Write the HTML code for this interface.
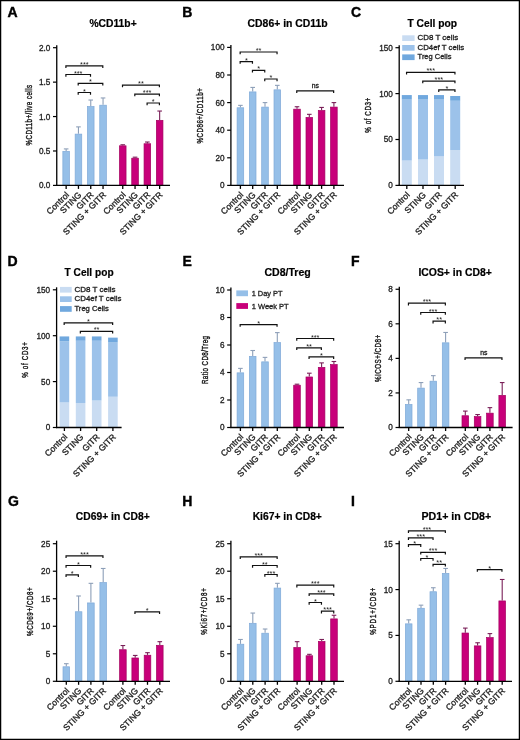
<!DOCTYPE html>
<html><head><meta charset="utf-8"><style>
html,body{margin:0;padding:0;background:#fff;}
body{width:520px;height:740px;overflow:hidden;}
svg{display:block;will-change:transform;}
text{font-family:"Liberation Sans", sans-serif;}
.t{stroke:#222;stroke-width:0.3px;}
.tk{stroke:#222;stroke-width:0.3px;}
.yl{stroke:#111;stroke-width:0.38px;}
</style></head><body>
<svg width="520" height="740" viewBox="0 0 520 740">
<rect x="0" y="0" width="520" height="740" fill="#fff"/>
<g>
<text x="7.6" y="17" font-size="14" font-weight="bold" stroke="#000" stroke-width="0.4" fill="#000">A</text>
<text x="113.05" y="26.8" font-size="10.1" font-weight="bold" stroke="#000" stroke-width="0.2" text-anchor="middle" textLength="47.3" lengthAdjust="spacingAndGlyphs" fill="#000">%CD11b+</text>
<text transform="translate(31.7,115.2) rotate(-90) scale(0.7,1)" class="yl" font-size="8.9" text-anchor="middle" textLength="86.57" lengthAdjust="spacing" fill="#1a1a1a">%CD11b+/live cells</text>
<line x1="66.15" y1="150.98" x2="66.15" y2="148.91" stroke="#8d9fb8" stroke-width="1.1"/>
<line x1="63.85" y1="148.91" x2="68.45" y2="148.91" stroke="#8d9fb8" stroke-width="1.1"/>
<rect x="62.85" y="151.33" width="6.6" height="34.07" fill="#95bfe8" stroke="#7fa9d8" stroke-width="0.7"/>
<line x1="78.45" y1="133.76" x2="78.45" y2="126.88" stroke="#8d9fb8" stroke-width="1.1"/>
<line x1="76.15" y1="126.88" x2="80.75" y2="126.88" stroke="#8d9fb8" stroke-width="1.1"/>
<rect x="75.15" y="134.11" width="6.6" height="51.29" fill="#95bfe8" stroke="#7fa9d8" stroke-width="0.7"/>
<line x1="90.75" y1="106.22" x2="90.75" y2="100.03" stroke="#8d9fb8" stroke-width="1.1"/>
<line x1="88.45" y1="100.03" x2="93.05" y2="100.03" stroke="#8d9fb8" stroke-width="1.1"/>
<rect x="87.45" y="106.57" width="6.6" height="78.83" fill="#95bfe8" stroke="#7fa9d8" stroke-width="0.7"/>
<line x1="103.05" y1="104.85" x2="103.05" y2="97.96" stroke="#8d9fb8" stroke-width="1.1"/>
<line x1="100.75" y1="97.96" x2="105.35" y2="97.96" stroke="#8d9fb8" stroke-width="1.1"/>
<rect x="99.75" y="105.2" width="6.6" height="80.2" fill="#95bfe8" stroke="#7fa9d8" stroke-width="0.7"/>
<line x1="122.75" y1="145.47" x2="122.75" y2="144.78" stroke="#7a1f58" stroke-width="1.1"/>
<line x1="120.45" y1="144.78" x2="125.05" y2="144.78" stroke="#7a1f58" stroke-width="1.1"/>
<rect x="119.45" y="145.82" width="6.6" height="39.58" fill="#c8007a" stroke="#a3005f" stroke-width="0.7"/>
<line x1="135.05" y1="157.86" x2="135.05" y2="157.17" stroke="#7a1f58" stroke-width="1.1"/>
<line x1="132.75" y1="157.17" x2="137.35" y2="157.17" stroke="#7a1f58" stroke-width="1.1"/>
<rect x="131.75" y="158.21" width="6.6" height="27.19" fill="#c8007a" stroke="#a3005f" stroke-width="0.7"/>
<line x1="147.35" y1="143.4" x2="147.35" y2="142.02" stroke="#7a1f58" stroke-width="1.1"/>
<line x1="145.05" y1="142.02" x2="149.65" y2="142.02" stroke="#7a1f58" stroke-width="1.1"/>
<rect x="144.05" y="143.75" width="6.6" height="41.65" fill="#c8007a" stroke="#a3005f" stroke-width="0.7"/>
<line x1="159.65" y1="119.99" x2="159.65" y2="111.04" stroke="#7a1f58" stroke-width="1.1"/>
<line x1="157.35" y1="111.04" x2="161.95" y2="111.04" stroke="#7a1f58" stroke-width="1.1"/>
<rect x="156.35" y="120.34" width="6.6" height="65.06" fill="#c8007a" stroke="#a3005f" stroke-width="0.7"/>
<line x1="56.75" y1="45.2" x2="56.75" y2="186" stroke="#000" stroke-width="1.3"/>
<line x1="56.15" y1="185.4" x2="170" y2="185.4" stroke="#000" stroke-width="1.3"/>
<line x1="53" y1="185.4" x2="56.75" y2="185.4" stroke="#000" stroke-width="1.2"/>
<text x="50.35" y="188.35" class="tk" font-size="8.2" text-anchor="end" fill="#1a1a1a">0.0</text>
<line x1="53" y1="150.98" x2="56.75" y2="150.98" stroke="#000" stroke-width="1.2"/>
<text x="50.35" y="153.93" class="tk" font-size="8.2" text-anchor="end" fill="#1a1a1a">0.5</text>
<line x1="53" y1="116.55" x2="56.75" y2="116.55" stroke="#000" stroke-width="1.2"/>
<text x="50.35" y="119.5" class="tk" font-size="8.2" text-anchor="end" fill="#1a1a1a">1.0</text>
<line x1="53" y1="82.13" x2="56.75" y2="82.13" stroke="#000" stroke-width="1.2"/>
<text x="50.35" y="85.08" class="tk" font-size="8.2" text-anchor="end" fill="#1a1a1a">1.5</text>
<line x1="53" y1="47.7" x2="56.75" y2="47.7" stroke="#000" stroke-width="1.2"/>
<text x="50.35" y="50.65" class="tk" font-size="8.2" text-anchor="end" fill="#1a1a1a">2.0</text>
<line x1="66.15" y1="185.4" x2="66.15" y2="188.9" stroke="#000" stroke-width="1.3"/>
<text transform="translate(69.65,195.4) rotate(-45)" class="t" font-size="8.6" text-anchor="end" fill="#1a1a1a">Control</text>
<line x1="78.45" y1="185.4" x2="78.45" y2="188.9" stroke="#000" stroke-width="1.3"/>
<text transform="translate(81.95,195.4) rotate(-45)" class="t" font-size="8.6" text-anchor="end" fill="#1a1a1a">STING</text>
<line x1="90.75" y1="185.4" x2="90.75" y2="188.9" stroke="#000" stroke-width="1.3"/>
<text transform="translate(94.25,195.4) rotate(-45)" class="t" font-size="8.6" text-anchor="end" fill="#1a1a1a">GITR</text>
<line x1="103.05" y1="185.4" x2="103.05" y2="188.9" stroke="#000" stroke-width="1.3"/>
<text transform="translate(106.55,195.4) rotate(-45)" class="t" font-size="8.6" text-anchor="end" fill="#1a1a1a">STING + GITR</text>
<line x1="122.75" y1="185.4" x2="122.75" y2="188.9" stroke="#000" stroke-width="1.3"/>
<text transform="translate(126.25,195.4) rotate(-45)" class="t" font-size="8.6" text-anchor="end" fill="#1a1a1a">Control</text>
<line x1="135.05" y1="185.4" x2="135.05" y2="188.9" stroke="#000" stroke-width="1.3"/>
<text transform="translate(138.55,195.4) rotate(-45)" class="t" font-size="8.6" text-anchor="end" fill="#1a1a1a">STING</text>
<line x1="147.35" y1="185.4" x2="147.35" y2="188.9" stroke="#000" stroke-width="1.3"/>
<text transform="translate(150.85,195.4) rotate(-45)" class="t" font-size="8.6" text-anchor="end" fill="#1a1a1a">GITR</text>
<line x1="159.65" y1="185.4" x2="159.65" y2="188.9" stroke="#000" stroke-width="1.3"/>
<text transform="translate(163.15,195.4) rotate(-45)" class="t" font-size="8.6" text-anchor="end" fill="#1a1a1a">STING + GITR</text>
<path d="M65.9,68V65.8H102.8V68" fill="none" stroke="#111" stroke-width="1.2"/>
<text x="84.35" y="66.8" font-size="7.3" text-anchor="middle" fill="#1a1a1a">***</text>
<path d="M65.9,76.7V74.5H90.5V76.7" fill="none" stroke="#111" stroke-width="1.2"/>
<text x="78.2" y="75.5" font-size="7.3" text-anchor="middle" fill="#1a1a1a">***</text>
<path d="M78.2,85.6V83.4H102.8V85.6" fill="none" stroke="#111" stroke-width="1.2"/>
<text x="90.5" y="84.4" font-size="7.3" text-anchor="middle" fill="#1a1a1a">*</text>
<path d="M78.2,94.7V92.5H90.5V94.7" fill="none" stroke="#111" stroke-width="1.2"/>
<text x="84.35" y="93.5" font-size="7.3" text-anchor="middle" fill="#1a1a1a">*</text>
<path d="M122.5,87.25V85.05H159.4V87.25" fill="none" stroke="#111" stroke-width="1.2"/>
<text x="140.95" y="86.05" font-size="7.3" text-anchor="middle" fill="#1a1a1a">**</text>
<path d="M134.8,96.25V94.05H159.4V96.25" fill="none" stroke="#111" stroke-width="1.2"/>
<text x="147.1" y="95.05" font-size="7.3" text-anchor="middle" fill="#1a1a1a">***</text>
<path d="M147.1,105.2V103H159.4V105.2" fill="none" stroke="#111" stroke-width="1.2"/>
<text x="153.25" y="104" font-size="7.3" text-anchor="middle" fill="#1a1a1a">*</text>
</g>
<g>
<text x="182.3" y="17" font-size="14" font-weight="bold" stroke="#000" stroke-width="0.4" fill="#000">B</text>
<text x="287.65" y="26.8" font-size="10.1" font-weight="bold" stroke="#000" stroke-width="0.2" text-anchor="middle" textLength="80.1" lengthAdjust="spacingAndGlyphs" fill="#000">CD86+ in CD11b</text>
<text transform="translate(202.5,115.9) rotate(-90) scale(0.7,1)" class="yl" font-size="8.9" text-anchor="middle" textLength="79.14" lengthAdjust="spacing" fill="#1a1a1a">%CD86+/CD11b+</text>
<line x1="240.4" y1="107.43" x2="240.4" y2="105.36" stroke="#8d9fb8" stroke-width="1.1"/>
<line x1="238.1" y1="105.36" x2="242.7" y2="105.36" stroke="#8d9fb8" stroke-width="1.1"/>
<rect x="237.1" y="107.78" width="6.6" height="77.62" fill="#95bfe8" stroke="#7fa9d8" stroke-width="0.7"/>
<line x1="252.7" y1="91.56" x2="252.7" y2="87.42" stroke="#8d9fb8" stroke-width="1.1"/>
<line x1="250.4" y1="87.42" x2="255" y2="87.42" stroke="#8d9fb8" stroke-width="1.1"/>
<rect x="249.4" y="91.91" width="6.6" height="93.49" fill="#95bfe8" stroke="#7fa9d8" stroke-width="0.7"/>
<line x1="265" y1="106.74" x2="265" y2="102.6" stroke="#8d9fb8" stroke-width="1.1"/>
<line x1="262.7" y1="102.6" x2="267.3" y2="102.6" stroke="#8d9fb8" stroke-width="1.1"/>
<rect x="261.7" y="107.09" width="6.6" height="78.31" fill="#95bfe8" stroke="#7fa9d8" stroke-width="0.7"/>
<line x1="277.3" y1="89.49" x2="277.3" y2="85.35" stroke="#8d9fb8" stroke-width="1.1"/>
<line x1="275" y1="85.35" x2="279.6" y2="85.35" stroke="#8d9fb8" stroke-width="1.1"/>
<rect x="274" y="89.84" width="6.6" height="95.56" fill="#95bfe8" stroke="#7fa9d8" stroke-width="0.7"/>
<line x1="297" y1="108.81" x2="297" y2="106.74" stroke="#7a1f58" stroke-width="1.1"/>
<line x1="294.7" y1="106.74" x2="299.3" y2="106.74" stroke="#7a1f58" stroke-width="1.1"/>
<rect x="293.7" y="109.16" width="6.6" height="76.24" fill="#c8007a" stroke="#a3005f" stroke-width="0.7"/>
<line x1="309.3" y1="117.09" x2="309.3" y2="114.33" stroke="#7a1f58" stroke-width="1.1"/>
<line x1="307" y1="114.33" x2="311.6" y2="114.33" stroke="#7a1f58" stroke-width="1.1"/>
<rect x="306" y="117.44" width="6.6" height="67.96" fill="#c8007a" stroke="#a3005f" stroke-width="0.7"/>
<line x1="321.6" y1="110.19" x2="321.6" y2="107.43" stroke="#7a1f58" stroke-width="1.1"/>
<line x1="319.3" y1="107.43" x2="323.9" y2="107.43" stroke="#7a1f58" stroke-width="1.1"/>
<rect x="318.3" y="110.54" width="6.6" height="74.86" fill="#c8007a" stroke="#a3005f" stroke-width="0.7"/>
<line x1="333.9" y1="106.74" x2="333.9" y2="102.6" stroke="#7a1f58" stroke-width="1.1"/>
<line x1="331.6" y1="102.6" x2="336.2" y2="102.6" stroke="#7a1f58" stroke-width="1.1"/>
<rect x="330.6" y="107.09" width="6.6" height="78.31" fill="#c8007a" stroke="#a3005f" stroke-width="0.7"/>
<line x1="230.9" y1="44.9" x2="230.9" y2="186" stroke="#000" stroke-width="1.3"/>
<line x1="230.3" y1="185.4" x2="344" y2="185.4" stroke="#000" stroke-width="1.3"/>
<line x1="227.15" y1="185.4" x2="230.9" y2="185.4" stroke="#000" stroke-width="1.2"/>
<text x="224.5" y="188.35" class="tk" font-size="8.2" text-anchor="end" fill="#1a1a1a">0</text>
<line x1="227.15" y1="157.8" x2="230.9" y2="157.8" stroke="#000" stroke-width="1.2"/>
<text x="224.5" y="160.75" class="tk" font-size="8.2" text-anchor="end" fill="#1a1a1a">20</text>
<line x1="227.15" y1="130.2" x2="230.9" y2="130.2" stroke="#000" stroke-width="1.2"/>
<text x="224.5" y="133.15" class="tk" font-size="8.2" text-anchor="end" fill="#1a1a1a">40</text>
<line x1="227.15" y1="102.6" x2="230.9" y2="102.6" stroke="#000" stroke-width="1.2"/>
<text x="224.5" y="105.55" class="tk" font-size="8.2" text-anchor="end" fill="#1a1a1a">60</text>
<line x1="227.15" y1="75" x2="230.9" y2="75" stroke="#000" stroke-width="1.2"/>
<text x="224.5" y="77.95" class="tk" font-size="8.2" text-anchor="end" fill="#1a1a1a">80</text>
<line x1="227.15" y1="47.4" x2="230.9" y2="47.4" stroke="#000" stroke-width="1.2"/>
<text x="224.5" y="50.35" class="tk" font-size="8.2" text-anchor="end" fill="#1a1a1a">100</text>
<line x1="240.4" y1="185.4" x2="240.4" y2="188.9" stroke="#000" stroke-width="1.3"/>
<text transform="translate(243.9,195.4) rotate(-45)" class="t" font-size="8.6" text-anchor="end" fill="#1a1a1a">Control</text>
<line x1="252.7" y1="185.4" x2="252.7" y2="188.9" stroke="#000" stroke-width="1.3"/>
<text transform="translate(256.2,195.4) rotate(-45)" class="t" font-size="8.6" text-anchor="end" fill="#1a1a1a">STING</text>
<line x1="265" y1="185.4" x2="265" y2="188.9" stroke="#000" stroke-width="1.3"/>
<text transform="translate(268.5,195.4) rotate(-45)" class="t" font-size="8.6" text-anchor="end" fill="#1a1a1a">GITR</text>
<line x1="277.3" y1="185.4" x2="277.3" y2="188.9" stroke="#000" stroke-width="1.3"/>
<text transform="translate(280.8,195.4) rotate(-45)" class="t" font-size="8.6" text-anchor="end" fill="#1a1a1a">STING + GITR</text>
<line x1="297" y1="185.4" x2="297" y2="188.9" stroke="#000" stroke-width="1.3"/>
<text transform="translate(300.5,195.4) rotate(-45)" class="t" font-size="8.6" text-anchor="end" fill="#1a1a1a">Control</text>
<line x1="309.3" y1="185.4" x2="309.3" y2="188.9" stroke="#000" stroke-width="1.3"/>
<text transform="translate(312.8,195.4) rotate(-45)" class="t" font-size="8.6" text-anchor="end" fill="#1a1a1a">STING</text>
<line x1="321.6" y1="185.4" x2="321.6" y2="188.9" stroke="#000" stroke-width="1.3"/>
<text transform="translate(325.1,195.4) rotate(-45)" class="t" font-size="8.6" text-anchor="end" fill="#1a1a1a">GITR</text>
<line x1="333.9" y1="185.4" x2="333.9" y2="188.9" stroke="#000" stroke-width="1.3"/>
<text transform="translate(337.4,195.4) rotate(-45)" class="t" font-size="8.6" text-anchor="end" fill="#1a1a1a">STING + GITR</text>
<path d="M240.15,54.2V52H277.05V54.2" fill="none" stroke="#111" stroke-width="1.2"/>
<text x="258.6" y="53" font-size="7.3" text-anchor="middle" fill="#1a1a1a">**</text>
<path d="M240.15,63.8V61.6H252.45V63.8" fill="none" stroke="#111" stroke-width="1.2"/>
<text x="246.3" y="62.6" font-size="7.3" text-anchor="middle" fill="#1a1a1a">*</text>
<path d="M252.45,72.5V70.3H264.75V72.5" fill="none" stroke="#111" stroke-width="1.2"/>
<text x="258.6" y="71.3" font-size="7.3" text-anchor="middle" fill="#1a1a1a">*</text>
<path d="M264.75,81.2V79H277.05V81.2" fill="none" stroke="#111" stroke-width="1.2"/>
<text x="270.9" y="80" font-size="7.3" text-anchor="middle" fill="#1a1a1a">*</text>
<path d="M296.75,93.1V90.9H333.65V93.1" fill="none" stroke="#111" stroke-width="1.2"/>
<text x="315.45" y="88.1" class="t" font-size="6.8" text-anchor="middle" fill="#1a1a1a">ns</text>
</g>
<g>
<text x="351" y="17" font-size="14" font-weight="bold" stroke="#000" stroke-width="0.4" fill="#000">C</text>
<text x="432.3" y="26.6" font-size="10.1" font-weight="bold" stroke="#000" stroke-width="0.2" text-anchor="middle" textLength="49.6" lengthAdjust="spacingAndGlyphs" fill="#000">T Cell pop</text>
<text transform="translate(371.1,115.3) rotate(-90) scale(0.7,1)" class="yl" font-size="8.9" text-anchor="middle" textLength="50.14" lengthAdjust="spacing" fill="#1a1a1a">% of CD3+</text>
<rect x="401.8" y="160.52" width="10" height="24.88" fill="#c9dcf2"/>
<rect x="401.8" y="99.57" width="10" height="60.96" fill="#9cc2ea"/>
<rect x="401.8" y="95.07" width="10" height="4.5" fill="#70a8de"/>
<rect x="418" y="159.51" width="10" height="25.89" fill="#c9dcf2"/>
<rect x="418" y="99.57" width="10" height="59.95" fill="#9cc2ea"/>
<rect x="418" y="95.07" width="10" height="4.5" fill="#70a8de"/>
<rect x="434" y="156.39" width="10" height="29.01" fill="#c9dcf2"/>
<rect x="434" y="99.57" width="10" height="56.82" fill="#9cc2ea"/>
<rect x="434" y="95.07" width="10" height="4.5" fill="#70a8de"/>
<rect x="450.2" y="150.06" width="10" height="35.34" fill="#c9dcf2"/>
<rect x="450.2" y="100.76" width="10" height="49.3" fill="#9cc2ea"/>
<rect x="450.2" y="95.99" width="10" height="4.77" fill="#70a8de"/>
<line x1="399.2" y1="45.2" x2="399.2" y2="186" stroke="#000" stroke-width="1.3"/>
<line x1="398.6" y1="185.4" x2="464" y2="185.4" stroke="#000" stroke-width="1.3"/>
<line x1="395.45" y1="185.4" x2="399.2" y2="185.4" stroke="#000" stroke-width="1.2"/>
<text x="392.8" y="188.35" class="tk" font-size="8.2" text-anchor="end" fill="#1a1a1a">0</text>
<line x1="395.45" y1="139.5" x2="399.2" y2="139.5" stroke="#000" stroke-width="1.2"/>
<text x="392.8" y="142.45" class="tk" font-size="8.2" text-anchor="end" fill="#1a1a1a">50</text>
<line x1="395.45" y1="93.6" x2="399.2" y2="93.6" stroke="#000" stroke-width="1.2"/>
<text x="392.8" y="96.55" class="tk" font-size="8.2" text-anchor="end" fill="#1a1a1a">100</text>
<line x1="395.45" y1="47.7" x2="399.2" y2="47.7" stroke="#000" stroke-width="1.2"/>
<text x="392.8" y="50.65" class="tk" font-size="8.2" text-anchor="end" fill="#1a1a1a">150</text>
<line x1="406.8" y1="185.4" x2="406.8" y2="188.9" stroke="#000" stroke-width="1.3"/>
<text transform="translate(410.3,195.4) rotate(-45)" class="t" font-size="8.6" text-anchor="end" fill="#1a1a1a">Control</text>
<line x1="423" y1="185.4" x2="423" y2="188.9" stroke="#000" stroke-width="1.3"/>
<text transform="translate(426.5,195.4) rotate(-45)" class="t" font-size="8.6" text-anchor="end" fill="#1a1a1a">STING</text>
<line x1="439" y1="185.4" x2="439" y2="188.9" stroke="#000" stroke-width="1.3"/>
<text transform="translate(442.5,195.4) rotate(-45)" class="t" font-size="8.6" text-anchor="end" fill="#1a1a1a">GITR</text>
<line x1="455.2" y1="185.4" x2="455.2" y2="188.9" stroke="#000" stroke-width="1.3"/>
<text transform="translate(458.7,195.4) rotate(-45)" class="t" font-size="8.6" text-anchor="end" fill="#1a1a1a">STING + GITR</text>
<path d="M406.55,74.6V72.4H454.95V74.6" fill="none" stroke="#111" stroke-width="1.2"/>
<text x="430.75" y="73.4" font-size="7.3" text-anchor="middle" fill="#1a1a1a">***</text>
<path d="M422.75,83.3V81.1H454.95V83.3" fill="none" stroke="#111" stroke-width="1.2"/>
<text x="438.85" y="82.1" font-size="7.3" text-anchor="middle" fill="#1a1a1a">***</text>
<path d="M438.75,92.1V89.9H454.95V92.1" fill="none" stroke="#111" stroke-width="1.2"/>
<text x="446.85" y="90.9" font-size="7.3" text-anchor="middle" fill="#1a1a1a">*</text>
<rect x="402.2" y="35.3" width="12.4" height="5.7" fill="#c9dcf2"/>
<text x="417.6" y="40.1" class="t" font-size="7.2" textLength="40.6" lengthAdjust="spacingAndGlyphs" fill="#1a1a1a">CD8 T cells</text>
<rect x="402.2" y="45" width="12.4" height="5.7" fill="#9cc2ea"/>
<text x="417.6" y="49.5" class="t" font-size="7.2" textLength="46.6" lengthAdjust="spacingAndGlyphs" fill="#1a1a1a">CD4ef T cells</text>
<rect x="402.2" y="54.4" width="12.4" height="5.7" fill="#70a8de"/>
<text x="417.6" y="58.9" class="t" font-size="7.2" textLength="33.8" lengthAdjust="spacingAndGlyphs" fill="#1a1a1a">Treg Cells</text>
</g>
<g>
<text x="7.5" y="266" font-size="14" font-weight="bold" stroke="#000" stroke-width="0.4" fill="#000">D</text>
<text x="89.1" y="275.8" font-size="10.1" font-weight="bold" stroke="#000" stroke-width="0.2" text-anchor="middle" textLength="49" lengthAdjust="spacingAndGlyphs" fill="#000">T Cell pop</text>
<text transform="translate(27.9,360) rotate(-90) scale(0.7,1)" class="yl" font-size="8.9" text-anchor="middle" textLength="51" lengthAdjust="spacing" fill="#1a1a1a">% of CD3+</text>
<rect x="59.6" y="402.44" width="9.6" height="25.06" fill="#c9dcf2"/>
<rect x="59.6" y="341.3" width="9.6" height="61.14" fill="#9cc2ea"/>
<rect x="59.6" y="336.43" width="9.6" height="4.87" fill="#70a8de"/>
<rect x="75.8" y="402.99" width="9.6" height="24.51" fill="#c9dcf2"/>
<rect x="75.8" y="340.75" width="9.6" height="62.24" fill="#9cc2ea"/>
<rect x="75.8" y="336.43" width="9.6" height="4.31" fill="#70a8de"/>
<rect x="91.9" y="400.51" width="9.6" height="26.99" fill="#c9dcf2"/>
<rect x="91.9" y="340.75" width="9.6" height="59.76" fill="#9cc2ea"/>
<rect x="91.9" y="336.43" width="9.6" height="4.31" fill="#70a8de"/>
<rect x="108.1" y="396.75" width="9.6" height="30.75" fill="#c9dcf2"/>
<rect x="108.1" y="342.49" width="9.6" height="54.25" fill="#9cc2ea"/>
<rect x="108.1" y="337.63" width="9.6" height="4.87" fill="#70a8de"/>
<line x1="56.6" y1="287.3" x2="56.6" y2="428.1" stroke="#000" stroke-width="1.3"/>
<line x1="56" y1="427.5" x2="121.6" y2="427.5" stroke="#000" stroke-width="1.3"/>
<line x1="52.85" y1="427.5" x2="56.6" y2="427.5" stroke="#000" stroke-width="1.2"/>
<text x="50.2" y="430.45" class="tk" font-size="8.2" text-anchor="end" fill="#1a1a1a">0</text>
<line x1="52.85" y1="381.6" x2="56.6" y2="381.6" stroke="#000" stroke-width="1.2"/>
<text x="50.2" y="384.55" class="tk" font-size="8.2" text-anchor="end" fill="#1a1a1a">50</text>
<line x1="52.85" y1="335.7" x2="56.6" y2="335.7" stroke="#000" stroke-width="1.2"/>
<text x="50.2" y="338.65" class="tk" font-size="8.2" text-anchor="end" fill="#1a1a1a">100</text>
<line x1="52.85" y1="289.8" x2="56.6" y2="289.8" stroke="#000" stroke-width="1.2"/>
<text x="50.2" y="292.75" class="tk" font-size="8.2" text-anchor="end" fill="#1a1a1a">150</text>
<line x1="64.4" y1="427.5" x2="64.4" y2="431" stroke="#000" stroke-width="1.3"/>
<text transform="translate(67.9,437.5) rotate(-45)" class="t" font-size="8.6" text-anchor="end" fill="#1a1a1a">Control</text>
<line x1="80.6" y1="427.5" x2="80.6" y2="431" stroke="#000" stroke-width="1.3"/>
<text transform="translate(84.1,437.5) rotate(-45)" class="t" font-size="8.6" text-anchor="end" fill="#1a1a1a">STING</text>
<line x1="96.7" y1="427.5" x2="96.7" y2="431" stroke="#000" stroke-width="1.3"/>
<text transform="translate(100.2,437.5) rotate(-45)" class="t" font-size="8.6" text-anchor="end" fill="#1a1a1a">GITR</text>
<line x1="112.9" y1="427.5" x2="112.9" y2="431" stroke="#000" stroke-width="1.3"/>
<text transform="translate(116.4,437.5) rotate(-45)" class="t" font-size="8.6" text-anchor="end" fill="#1a1a1a">STING + GITR</text>
<path d="M64.15,325V322.8H112.65V325" fill="none" stroke="#111" stroke-width="1.2"/>
<text x="88.4" y="323.8" font-size="7.3" text-anchor="middle" fill="#1a1a1a">*</text>
<path d="M80.35,333.6V331.4H112.65V333.6" fill="none" stroke="#111" stroke-width="1.2"/>
<text x="96.5" y="332.4" font-size="7.3" text-anchor="middle" fill="#1a1a1a">**</text>
<rect x="60" y="286.9" width="11.7" height="5.7" fill="#c9dcf2"/>
<text x="74.5" y="291.7" class="t" font-size="7.2" textLength="41" lengthAdjust="spacingAndGlyphs" fill="#1a1a1a">CD8 T cells</text>
<rect x="60" y="296.3" width="11.7" height="5.7" fill="#9cc2ea"/>
<text x="74.5" y="301.3" class="t" font-size="7.2" textLength="47" lengthAdjust="spacingAndGlyphs" fill="#1a1a1a">CD4ef T cells</text>
<rect x="60" y="306.1" width="11.7" height="5.7" fill="#70a8de"/>
<text x="74.5" y="310.9" class="t" font-size="7.2" textLength="34.3" lengthAdjust="spacingAndGlyphs" fill="#1a1a1a">Treg Cells</text>
</g>
<g>
<text x="182.5" y="266" font-size="14" font-weight="bold" stroke="#000" stroke-width="0.4" fill="#000">E</text>
<text x="287.6" y="275.8" font-size="10.1" font-weight="bold" stroke="#000" stroke-width="0.2" text-anchor="middle" textLength="46.4" lengthAdjust="spacingAndGlyphs" fill="#000">CD8/Treg</text>
<text transform="translate(208.4,360) rotate(-90) scale(0.7,1)" class="yl" font-size="8.9" text-anchor="middle" textLength="68.86" lengthAdjust="spacing" fill="#1a1a1a">Ratio CD8/Treg</text>
<line x1="240.4" y1="372.5" x2="240.4" y2="368.38" stroke="#8d9fb8" stroke-width="1.1"/>
<line x1="238.1" y1="368.38" x2="242.7" y2="368.38" stroke="#8d9fb8" stroke-width="1.1"/>
<rect x="237.1" y="372.85" width="6.6" height="54.65" fill="#95bfe8" stroke="#7fa9d8" stroke-width="0.7"/>
<line x1="252.7" y1="356" x2="252.7" y2="350.5" stroke="#8d9fb8" stroke-width="1.1"/>
<line x1="250.4" y1="350.5" x2="255" y2="350.5" stroke="#8d9fb8" stroke-width="1.1"/>
<rect x="249.4" y="356.35" width="6.6" height="71.15" fill="#95bfe8" stroke="#7fa9d8" stroke-width="0.7"/>
<line x1="265" y1="361.5" x2="265" y2="357.38" stroke="#8d9fb8" stroke-width="1.1"/>
<line x1="262.7" y1="357.38" x2="267.3" y2="357.38" stroke="#8d9fb8" stroke-width="1.1"/>
<rect x="261.7" y="361.85" width="6.6" height="65.65" fill="#95bfe8" stroke="#7fa9d8" stroke-width="0.7"/>
<line x1="277.3" y1="342.25" x2="277.3" y2="332.62" stroke="#8d9fb8" stroke-width="1.1"/>
<line x1="275" y1="332.62" x2="279.6" y2="332.62" stroke="#8d9fb8" stroke-width="1.1"/>
<rect x="274" y="342.6" width="6.6" height="84.9" fill="#95bfe8" stroke="#7fa9d8" stroke-width="0.7"/>
<line x1="297" y1="384.88" x2="297" y2="384.19" stroke="#7a1f58" stroke-width="1.1"/>
<line x1="294.7" y1="384.19" x2="299.3" y2="384.19" stroke="#7a1f58" stroke-width="1.1"/>
<rect x="293.7" y="385.23" width="6.6" height="42.27" fill="#c8007a" stroke="#a3005f" stroke-width="0.7"/>
<line x1="309.3" y1="376.62" x2="309.3" y2="373.19" stroke="#7a1f58" stroke-width="1.1"/>
<line x1="307" y1="373.19" x2="311.6" y2="373.19" stroke="#7a1f58" stroke-width="1.1"/>
<rect x="306" y="376.98" width="6.6" height="50.52" fill="#c8007a" stroke="#a3005f" stroke-width="0.7"/>
<line x1="321.6" y1="367" x2="321.6" y2="362.88" stroke="#7a1f58" stroke-width="1.1"/>
<line x1="319.3" y1="362.88" x2="323.9" y2="362.88" stroke="#7a1f58" stroke-width="1.1"/>
<rect x="318.3" y="367.35" width="6.6" height="60.15" fill="#c8007a" stroke="#a3005f" stroke-width="0.7"/>
<line x1="333.9" y1="364.25" x2="333.9" y2="361.5" stroke="#7a1f58" stroke-width="1.1"/>
<line x1="331.6" y1="361.5" x2="336.2" y2="361.5" stroke="#7a1f58" stroke-width="1.1"/>
<rect x="330.6" y="364.6" width="6.6" height="62.9" fill="#c8007a" stroke="#a3005f" stroke-width="0.7"/>
<line x1="230.9" y1="287.5" x2="230.9" y2="428.1" stroke="#000" stroke-width="1.3"/>
<line x1="230.3" y1="427.5" x2="344" y2="427.5" stroke="#000" stroke-width="1.3"/>
<line x1="227.15" y1="427.5" x2="230.9" y2="427.5" stroke="#000" stroke-width="1.2"/>
<text x="224.5" y="430.45" class="tk" font-size="8.2" text-anchor="end" fill="#1a1a1a">0</text>
<line x1="227.15" y1="400" x2="230.9" y2="400" stroke="#000" stroke-width="1.2"/>
<text x="224.5" y="402.95" class="tk" font-size="8.2" text-anchor="end" fill="#1a1a1a">2</text>
<line x1="227.15" y1="372.5" x2="230.9" y2="372.5" stroke="#000" stroke-width="1.2"/>
<text x="224.5" y="375.45" class="tk" font-size="8.2" text-anchor="end" fill="#1a1a1a">4</text>
<line x1="227.15" y1="345" x2="230.9" y2="345" stroke="#000" stroke-width="1.2"/>
<text x="224.5" y="347.95" class="tk" font-size="8.2" text-anchor="end" fill="#1a1a1a">6</text>
<line x1="227.15" y1="317.5" x2="230.9" y2="317.5" stroke="#000" stroke-width="1.2"/>
<text x="224.5" y="320.45" class="tk" font-size="8.2" text-anchor="end" fill="#1a1a1a">8</text>
<line x1="227.15" y1="290" x2="230.9" y2="290" stroke="#000" stroke-width="1.2"/>
<text x="224.5" y="292.95" class="tk" font-size="8.2" text-anchor="end" fill="#1a1a1a">10</text>
<line x1="240.4" y1="427.5" x2="240.4" y2="431" stroke="#000" stroke-width="1.3"/>
<text transform="translate(243.9,437.5) rotate(-45)" class="t" font-size="8.6" text-anchor="end" fill="#1a1a1a">Control</text>
<line x1="252.7" y1="427.5" x2="252.7" y2="431" stroke="#000" stroke-width="1.3"/>
<text transform="translate(256.2,437.5) rotate(-45)" class="t" font-size="8.6" text-anchor="end" fill="#1a1a1a">STING</text>
<line x1="265" y1="427.5" x2="265" y2="431" stroke="#000" stroke-width="1.3"/>
<text transform="translate(268.5,437.5) rotate(-45)" class="t" font-size="8.6" text-anchor="end" fill="#1a1a1a">GITR</text>
<line x1="277.3" y1="427.5" x2="277.3" y2="431" stroke="#000" stroke-width="1.3"/>
<text transform="translate(280.8,437.5) rotate(-45)" class="t" font-size="8.6" text-anchor="end" fill="#1a1a1a">STING + GITR</text>
<line x1="297" y1="427.5" x2="297" y2="431" stroke="#000" stroke-width="1.3"/>
<text transform="translate(300.5,437.5) rotate(-45)" class="t" font-size="8.6" text-anchor="end" fill="#1a1a1a">Control</text>
<line x1="309.3" y1="427.5" x2="309.3" y2="431" stroke="#000" stroke-width="1.3"/>
<text transform="translate(312.8,437.5) rotate(-45)" class="t" font-size="8.6" text-anchor="end" fill="#1a1a1a">STING</text>
<line x1="321.6" y1="427.5" x2="321.6" y2="431" stroke="#000" stroke-width="1.3"/>
<text transform="translate(325.1,437.5) rotate(-45)" class="t" font-size="8.6" text-anchor="end" fill="#1a1a1a">GITR</text>
<line x1="333.9" y1="427.5" x2="333.9" y2="431" stroke="#000" stroke-width="1.3"/>
<text transform="translate(337.4,437.5) rotate(-45)" class="t" font-size="8.6" text-anchor="end" fill="#1a1a1a">STING + GITR</text>
<path d="M240.15,326.8V324.6H277.05V326.8" fill="none" stroke="#111" stroke-width="1.2"/>
<text x="258.6" y="325.6" font-size="7.3" text-anchor="middle" fill="#1a1a1a">*</text>
<path d="M296.75,340.7V338.5H333.65V340.7" fill="none" stroke="#111" stroke-width="1.2"/>
<text x="315.2" y="339.5" font-size="7.3" text-anchor="middle" fill="#1a1a1a">***</text>
<path d="M296.75,350V347.8H321.35V350" fill="none" stroke="#111" stroke-width="1.2"/>
<text x="309.05" y="348.8" font-size="7.3" text-anchor="middle" fill="#1a1a1a">**</text>
<path d="M309.05,359V356.8H333.65V359" fill="none" stroke="#111" stroke-width="1.2"/>
<text x="321.35" y="357.8" font-size="7.3" text-anchor="middle" fill="#1a1a1a">*</text>
<rect x="236.3" y="290.4" width="11.7" height="5.8" fill="#95bfe8"/>
<text x="251.7" y="295.8" class="t" font-size="7.4" textLength="30.8" lengthAdjust="spacingAndGlyphs" fill="#1a1a1a">1 Day PT</text>
<rect x="236.3" y="303.1" width="11.7" height="5.8" fill="#c8007a"/>
<text x="251.7" y="308.5" class="t" font-size="7.4" textLength="37" lengthAdjust="spacingAndGlyphs" fill="#1a1a1a">1 Week PT</text>
</g>
<g>
<text x="351" y="266" font-size="14" font-weight="bold" stroke="#000" stroke-width="0.4" fill="#000">F</text>
<text x="455.15" y="275.6" font-size="10.1" font-weight="bold" stroke="#000" stroke-width="0.2" text-anchor="middle" textLength="73.5" lengthAdjust="spacingAndGlyphs" fill="#000">ICOS+ in CD8+</text>
<text transform="translate(381,358.4) rotate(-90) scale(0.7,1)" class="yl" font-size="8.9" text-anchor="middle" textLength="67.43" lengthAdjust="spacing" fill="#1a1a1a">%ICOS+/CD8+</text>
<line x1="408.7" y1="404.17" x2="408.7" y2="399.85" stroke="#8d9fb8" stroke-width="1.1"/>
<line x1="406.4" y1="399.85" x2="411" y2="399.85" stroke="#8d9fb8" stroke-width="1.1"/>
<rect x="405.4" y="404.52" width="6.6" height="22.98" fill="#95bfe8" stroke="#7fa9d8" stroke-width="0.7"/>
<line x1="421" y1="387.76" x2="421" y2="382.57" stroke="#8d9fb8" stroke-width="1.1"/>
<line x1="418.7" y1="382.57" x2="423.3" y2="382.57" stroke="#8d9fb8" stroke-width="1.1"/>
<rect x="417.7" y="388.11" width="6.6" height="39.39" fill="#95bfe8" stroke="#7fa9d8" stroke-width="0.7"/>
<line x1="433.3" y1="380.84" x2="433.3" y2="375.66" stroke="#8d9fb8" stroke-width="1.1"/>
<line x1="431" y1="375.66" x2="435.6" y2="375.66" stroke="#8d9fb8" stroke-width="1.1"/>
<rect x="430" y="381.19" width="6.6" height="46.31" fill="#95bfe8" stroke="#7fa9d8" stroke-width="0.7"/>
<line x1="445.6" y1="342.48" x2="445.6" y2="332.46" stroke="#8d9fb8" stroke-width="1.1"/>
<line x1="443.3" y1="332.46" x2="447.9" y2="332.46" stroke="#8d9fb8" stroke-width="1.1"/>
<rect x="442.3" y="342.83" width="6.6" height="84.67" fill="#95bfe8" stroke="#7fa9d8" stroke-width="0.7"/>
<line x1="465.3" y1="415.4" x2="465.3" y2="411.08" stroke="#7a1f58" stroke-width="1.1"/>
<line x1="463" y1="411.08" x2="467.6" y2="411.08" stroke="#7a1f58" stroke-width="1.1"/>
<rect x="462" y="415.75" width="6.6" height="11.75" fill="#c8007a" stroke="#a3005f" stroke-width="0.7"/>
<line x1="477.6" y1="416.27" x2="477.6" y2="414.54" stroke="#7a1f58" stroke-width="1.1"/>
<line x1="475.3" y1="414.54" x2="479.9" y2="414.54" stroke="#7a1f58" stroke-width="1.1"/>
<rect x="474.3" y="416.62" width="6.6" height="10.88" fill="#c8007a" stroke="#a3005f" stroke-width="0.7"/>
<line x1="489.9" y1="412.81" x2="489.9" y2="407.63" stroke="#7a1f58" stroke-width="1.1"/>
<line x1="487.6" y1="407.63" x2="492.2" y2="407.63" stroke="#7a1f58" stroke-width="1.1"/>
<rect x="486.6" y="413.16" width="6.6" height="14.34" fill="#c8007a" stroke="#a3005f" stroke-width="0.7"/>
<line x1="502.2" y1="395.01" x2="502.2" y2="382.57" stroke="#7a1f58" stroke-width="1.1"/>
<line x1="499.9" y1="382.57" x2="504.5" y2="382.57" stroke="#7a1f58" stroke-width="1.1"/>
<rect x="498.9" y="395.36" width="6.6" height="32.14" fill="#c8007a" stroke="#a3005f" stroke-width="0.7"/>
<line x1="399.3" y1="286.76" x2="399.3" y2="428.1" stroke="#000" stroke-width="1.3"/>
<line x1="398.7" y1="427.5" x2="512.6" y2="427.5" stroke="#000" stroke-width="1.3"/>
<line x1="395.55" y1="427.5" x2="399.3" y2="427.5" stroke="#000" stroke-width="1.2"/>
<text x="392.9" y="430.45" class="tk" font-size="8.2" text-anchor="end" fill="#1a1a1a">0</text>
<line x1="395.55" y1="392.94" x2="399.3" y2="392.94" stroke="#000" stroke-width="1.2"/>
<text x="392.9" y="395.89" class="tk" font-size="8.2" text-anchor="end" fill="#1a1a1a">2</text>
<line x1="395.55" y1="358.38" x2="399.3" y2="358.38" stroke="#000" stroke-width="1.2"/>
<text x="392.9" y="361.33" class="tk" font-size="8.2" text-anchor="end" fill="#1a1a1a">4</text>
<line x1="395.55" y1="323.82" x2="399.3" y2="323.82" stroke="#000" stroke-width="1.2"/>
<text x="392.9" y="326.77" class="tk" font-size="8.2" text-anchor="end" fill="#1a1a1a">6</text>
<line x1="395.55" y1="289.26" x2="399.3" y2="289.26" stroke="#000" stroke-width="1.2"/>
<text x="392.9" y="292.21" class="tk" font-size="8.2" text-anchor="end" fill="#1a1a1a">8</text>
<line x1="408.7" y1="427.5" x2="408.7" y2="431" stroke="#000" stroke-width="1.3"/>
<text transform="translate(412.2,437.5) rotate(-45)" class="t" font-size="8.6" text-anchor="end" fill="#1a1a1a">Control</text>
<line x1="421" y1="427.5" x2="421" y2="431" stroke="#000" stroke-width="1.3"/>
<text transform="translate(424.5,437.5) rotate(-45)" class="t" font-size="8.6" text-anchor="end" fill="#1a1a1a">STING</text>
<line x1="433.3" y1="427.5" x2="433.3" y2="431" stroke="#000" stroke-width="1.3"/>
<text transform="translate(436.8,437.5) rotate(-45)" class="t" font-size="8.6" text-anchor="end" fill="#1a1a1a">GITR</text>
<line x1="445.6" y1="427.5" x2="445.6" y2="431" stroke="#000" stroke-width="1.3"/>
<text transform="translate(449.1,437.5) rotate(-45)" class="t" font-size="8.6" text-anchor="end" fill="#1a1a1a">STING + GITR</text>
<line x1="465.3" y1="427.5" x2="465.3" y2="431" stroke="#000" stroke-width="1.3"/>
<text transform="translate(468.8,437.5) rotate(-45)" class="t" font-size="8.6" text-anchor="end" fill="#1a1a1a">Control</text>
<line x1="477.6" y1="427.5" x2="477.6" y2="431" stroke="#000" stroke-width="1.3"/>
<text transform="translate(481.1,437.5) rotate(-45)" class="t" font-size="8.6" text-anchor="end" fill="#1a1a1a">STING</text>
<line x1="489.9" y1="427.5" x2="489.9" y2="431" stroke="#000" stroke-width="1.3"/>
<text transform="translate(493.4,437.5) rotate(-45)" class="t" font-size="8.6" text-anchor="end" fill="#1a1a1a">GITR</text>
<line x1="502.2" y1="427.5" x2="502.2" y2="431" stroke="#000" stroke-width="1.3"/>
<text transform="translate(505.7,437.5) rotate(-45)" class="t" font-size="8.6" text-anchor="end" fill="#1a1a1a">STING + GITR</text>
<path d="M408.45,305.4V303.2H445.35V305.4" fill="none" stroke="#111" stroke-width="1.2"/>
<text x="426.9" y="304.2" font-size="7.3" text-anchor="middle" fill="#1a1a1a">***</text>
<path d="M420.75,314.7V312.5H445.35V314.7" fill="none" stroke="#111" stroke-width="1.2"/>
<text x="433.05" y="313.5" font-size="7.3" text-anchor="middle" fill="#1a1a1a">***</text>
<path d="M433.05,323.4V321.2H445.35V323.4" fill="none" stroke="#111" stroke-width="1.2"/>
<text x="439.2" y="322.2" font-size="7.3" text-anchor="middle" fill="#1a1a1a">**</text>
<path d="M465.05,360V357.8H501.95V360" fill="none" stroke="#111" stroke-width="1.2"/>
<text x="483.75" y="355" class="t" font-size="6.8" text-anchor="middle" fill="#1a1a1a">ns</text>
</g>
<g>
<text x="8" y="506" font-size="14" font-weight="bold" stroke="#000" stroke-width="0.4" fill="#000">G</text>
<text x="112.75" y="519.6" font-size="10.1" font-weight="bold" stroke="#000" stroke-width="0.2" text-anchor="middle" textLength="73.9" lengthAdjust="spacingAndGlyphs" fill="#000">CD69+ in CD8+</text>
<text transform="translate(33.1,611.6) rotate(-90) scale(0.7,1)" class="yl" font-size="8.9" text-anchor="middle" textLength="69.57" lengthAdjust="spacing" fill="#1a1a1a">%CD69+/CD8+</text>
<line x1="66.3" y1="666.44" x2="66.3" y2="663.69" stroke="#8d9fb8" stroke-width="1.1"/>
<line x1="64" y1="663.69" x2="68.6" y2="663.69" stroke="#8d9fb8" stroke-width="1.1"/>
<rect x="63" y="666.79" width="6.6" height="14.51" fill="#95bfe8" stroke="#7fa9d8" stroke-width="0.7"/>
<line x1="78.6" y1="611.4" x2="78.6" y2="595.99" stroke="#8d9fb8" stroke-width="1.1"/>
<line x1="76.3" y1="595.99" x2="80.9" y2="595.99" stroke="#8d9fb8" stroke-width="1.1"/>
<rect x="75.3" y="611.75" width="6.6" height="69.55" fill="#95bfe8" stroke="#7fa9d8" stroke-width="0.7"/>
<line x1="90.9" y1="602.59" x2="90.9" y2="583.33" stroke="#8d9fb8" stroke-width="1.1"/>
<line x1="88.6" y1="583.33" x2="93.2" y2="583.33" stroke="#8d9fb8" stroke-width="1.1"/>
<rect x="87.6" y="602.94" width="6.6" height="78.36" fill="#95bfe8" stroke="#7fa9d8" stroke-width="0.7"/>
<line x1="103.2" y1="582.23" x2="103.2" y2="568.47" stroke="#8d9fb8" stroke-width="1.1"/>
<line x1="100.9" y1="568.47" x2="105.5" y2="568.47" stroke="#8d9fb8" stroke-width="1.1"/>
<rect x="99.9" y="582.58" width="6.6" height="98.72" fill="#95bfe8" stroke="#7fa9d8" stroke-width="0.7"/>
<line x1="122.9" y1="649.38" x2="122.9" y2="645.52" stroke="#7a1f58" stroke-width="1.1"/>
<line x1="120.6" y1="645.52" x2="125.2" y2="645.52" stroke="#7a1f58" stroke-width="1.1"/>
<rect x="119.6" y="649.73" width="6.6" height="31.57" fill="#c8007a" stroke="#a3005f" stroke-width="0.7"/>
<line x1="135.2" y1="657.63" x2="135.2" y2="655.43" stroke="#7a1f58" stroke-width="1.1"/>
<line x1="132.9" y1="655.43" x2="137.5" y2="655.43" stroke="#7a1f58" stroke-width="1.1"/>
<rect x="131.9" y="657.98" width="6.6" height="23.32" fill="#c8007a" stroke="#a3005f" stroke-width="0.7"/>
<line x1="147.5" y1="654.88" x2="147.5" y2="652.68" stroke="#7a1f58" stroke-width="1.1"/>
<line x1="145.2" y1="652.68" x2="149.8" y2="652.68" stroke="#7a1f58" stroke-width="1.1"/>
<rect x="144.2" y="655.23" width="6.6" height="26.07" fill="#c8007a" stroke="#a3005f" stroke-width="0.7"/>
<line x1="159.8" y1="644.97" x2="159.8" y2="641.67" stroke="#7a1f58" stroke-width="1.1"/>
<line x1="157.5" y1="641.67" x2="162.1" y2="641.67" stroke="#7a1f58" stroke-width="1.1"/>
<rect x="156.5" y="645.32" width="6.6" height="35.98" fill="#c8007a" stroke="#a3005f" stroke-width="0.7"/>
<line x1="56.6" y1="540.7" x2="56.6" y2="681.9" stroke="#000" stroke-width="1.3"/>
<line x1="56" y1="681.3" x2="170" y2="681.3" stroke="#000" stroke-width="1.3"/>
<line x1="52.85" y1="681.3" x2="56.6" y2="681.3" stroke="#000" stroke-width="1.2"/>
<text x="50.2" y="684.25" class="tk" font-size="8.2" text-anchor="end" fill="#1a1a1a">0</text>
<line x1="52.85" y1="653.78" x2="56.6" y2="653.78" stroke="#000" stroke-width="1.2"/>
<text x="50.2" y="656.73" class="tk" font-size="8.2" text-anchor="end" fill="#1a1a1a">5</text>
<line x1="52.85" y1="626.26" x2="56.6" y2="626.26" stroke="#000" stroke-width="1.2"/>
<text x="50.2" y="629.21" class="tk" font-size="8.2" text-anchor="end" fill="#1a1a1a">10</text>
<line x1="52.85" y1="598.74" x2="56.6" y2="598.74" stroke="#000" stroke-width="1.2"/>
<text x="50.2" y="601.69" class="tk" font-size="8.2" text-anchor="end" fill="#1a1a1a">15</text>
<line x1="52.85" y1="571.22" x2="56.6" y2="571.22" stroke="#000" stroke-width="1.2"/>
<text x="50.2" y="574.17" class="tk" font-size="8.2" text-anchor="end" fill="#1a1a1a">20</text>
<line x1="52.85" y1="543.7" x2="56.6" y2="543.7" stroke="#000" stroke-width="1.2"/>
<text x="50.2" y="546.65" class="tk" font-size="8.2" text-anchor="end" fill="#1a1a1a">25</text>
<line x1="66.3" y1="681.3" x2="66.3" y2="684.8" stroke="#000" stroke-width="1.3"/>
<text transform="translate(69.8,691.3) rotate(-45)" class="t" font-size="8.6" text-anchor="end" fill="#1a1a1a">Control</text>
<line x1="78.6" y1="681.3" x2="78.6" y2="684.8" stroke="#000" stroke-width="1.3"/>
<text transform="translate(82.1,691.3) rotate(-45)" class="t" font-size="8.6" text-anchor="end" fill="#1a1a1a">STING</text>
<line x1="90.9" y1="681.3" x2="90.9" y2="684.8" stroke="#000" stroke-width="1.3"/>
<text transform="translate(94.4,691.3) rotate(-45)" class="t" font-size="8.6" text-anchor="end" fill="#1a1a1a">GITR</text>
<line x1="103.2" y1="681.3" x2="103.2" y2="684.8" stroke="#000" stroke-width="1.3"/>
<text transform="translate(106.7,691.3) rotate(-45)" class="t" font-size="8.6" text-anchor="end" fill="#1a1a1a">STING + GITR</text>
<line x1="122.9" y1="681.3" x2="122.9" y2="684.8" stroke="#000" stroke-width="1.3"/>
<text transform="translate(126.4,691.3) rotate(-45)" class="t" font-size="8.6" text-anchor="end" fill="#1a1a1a">Control</text>
<line x1="135.2" y1="681.3" x2="135.2" y2="684.8" stroke="#000" stroke-width="1.3"/>
<text transform="translate(138.7,691.3) rotate(-45)" class="t" font-size="8.6" text-anchor="end" fill="#1a1a1a">STING</text>
<line x1="147.5" y1="681.3" x2="147.5" y2="684.8" stroke="#000" stroke-width="1.3"/>
<text transform="translate(151,691.3) rotate(-45)" class="t" font-size="8.6" text-anchor="end" fill="#1a1a1a">GITR</text>
<line x1="159.8" y1="681.3" x2="159.8" y2="684.8" stroke="#000" stroke-width="1.3"/>
<text transform="translate(163.3,691.3) rotate(-45)" class="t" font-size="8.6" text-anchor="end" fill="#1a1a1a">STING + GITR</text>
<path d="M66.05,558V555.8H102.95V558" fill="none" stroke="#111" stroke-width="1.2"/>
<text x="84.5" y="556.8" font-size="7.3" text-anchor="middle" fill="#1a1a1a">***</text>
<path d="M66.05,567.7V565.5H90.65V567.7" fill="none" stroke="#111" stroke-width="1.2"/>
<text x="78.35" y="566.5" font-size="7.3" text-anchor="middle" fill="#1a1a1a">*</text>
<path d="M66.05,577V574.8H78.35V577" fill="none" stroke="#111" stroke-width="1.2"/>
<text x="72.2" y="575.8" font-size="7.3" text-anchor="middle" fill="#1a1a1a">*</text>
<path d="M134.95,614V611.8H159.55V614" fill="none" stroke="#111" stroke-width="1.2"/>
<text x="147.25" y="612.8" font-size="7.3" text-anchor="middle" fill="#1a1a1a">*</text>
</g>
<g>
<text x="182.3" y="506" font-size="14" font-weight="bold" stroke="#000" stroke-width="0.4" fill="#000">H</text>
<text x="287.3" y="519.6" font-size="10.1" font-weight="bold" stroke="#000" stroke-width="0.2" text-anchor="middle" textLength="69.2" lengthAdjust="spacingAndGlyphs" fill="#000">Ki67+ in CD8+</text>
<text transform="translate(207.4,611.5) rotate(-90) scale(0.7,1)" class="yl" font-size="8.9" text-anchor="middle" textLength="66.57" lengthAdjust="spacing" fill="#1a1a1a">%Ki67+/CD8+</text>
<line x1="240.5" y1="643.87" x2="240.5" y2="639.47" stroke="#8d9fb8" stroke-width="1.1"/>
<line x1="238.2" y1="639.47" x2="242.8" y2="639.47" stroke="#8d9fb8" stroke-width="1.1"/>
<rect x="237.2" y="644.22" width="6.6" height="37.08" fill="#95bfe8" stroke="#7fa9d8" stroke-width="0.7"/>
<line x1="252.8" y1="622.96" x2="252.8" y2="613.05" stroke="#8d9fb8" stroke-width="1.1"/>
<line x1="250.5" y1="613.05" x2="255.1" y2="613.05" stroke="#8d9fb8" stroke-width="1.1"/>
<rect x="249.5" y="623.31" width="6.6" height="57.99" fill="#95bfe8" stroke="#7fa9d8" stroke-width="0.7"/>
<line x1="265.1" y1="632.86" x2="265.1" y2="629.01" stroke="#8d9fb8" stroke-width="1.1"/>
<line x1="262.8" y1="629.01" x2="267.4" y2="629.01" stroke="#8d9fb8" stroke-width="1.1"/>
<rect x="261.8" y="633.21" width="6.6" height="48.09" fill="#95bfe8" stroke="#7fa9d8" stroke-width="0.7"/>
<line x1="277.4" y1="587.73" x2="277.4" y2="583.33" stroke="#8d9fb8" stroke-width="1.1"/>
<line x1="275.1" y1="583.33" x2="279.7" y2="583.33" stroke="#8d9fb8" stroke-width="1.1"/>
<rect x="274.1" y="588.08" width="6.6" height="93.22" fill="#95bfe8" stroke="#7fa9d8" stroke-width="0.7"/>
<line x1="297.1" y1="647.18" x2="297.1" y2="641.67" stroke="#7a1f58" stroke-width="1.1"/>
<line x1="294.8" y1="641.67" x2="299.4" y2="641.67" stroke="#7a1f58" stroke-width="1.1"/>
<rect x="293.8" y="647.53" width="6.6" height="33.77" fill="#c8007a" stroke="#a3005f" stroke-width="0.7"/>
<line x1="309.4" y1="655.43" x2="309.4" y2="654.33" stroke="#7a1f58" stroke-width="1.1"/>
<line x1="307.1" y1="654.33" x2="311.7" y2="654.33" stroke="#7a1f58" stroke-width="1.1"/>
<rect x="306.1" y="655.78" width="6.6" height="25.52" fill="#c8007a" stroke="#a3005f" stroke-width="0.7"/>
<line x1="321.7" y1="641.12" x2="321.7" y2="639.47" stroke="#7a1f58" stroke-width="1.1"/>
<line x1="319.4" y1="639.47" x2="324" y2="639.47" stroke="#7a1f58" stroke-width="1.1"/>
<rect x="318.4" y="641.47" width="6.6" height="39.83" fill="#c8007a" stroke="#a3005f" stroke-width="0.7"/>
<line x1="334" y1="618.55" x2="334" y2="615.25" stroke="#7a1f58" stroke-width="1.1"/>
<line x1="331.7" y1="615.25" x2="336.3" y2="615.25" stroke="#7a1f58" stroke-width="1.1"/>
<rect x="330.7" y="618.9" width="6.6" height="62.4" fill="#c8007a" stroke="#a3005f" stroke-width="0.7"/>
<line x1="230.9" y1="540.7" x2="230.9" y2="681.9" stroke="#000" stroke-width="1.3"/>
<line x1="230.3" y1="681.3" x2="344" y2="681.3" stroke="#000" stroke-width="1.3"/>
<line x1="227.15" y1="681.3" x2="230.9" y2="681.3" stroke="#000" stroke-width="1.2"/>
<text x="224.5" y="684.25" class="tk" font-size="8.2" text-anchor="end" fill="#1a1a1a">0</text>
<line x1="227.15" y1="653.78" x2="230.9" y2="653.78" stroke="#000" stroke-width="1.2"/>
<text x="224.5" y="656.73" class="tk" font-size="8.2" text-anchor="end" fill="#1a1a1a">5</text>
<line x1="227.15" y1="626.26" x2="230.9" y2="626.26" stroke="#000" stroke-width="1.2"/>
<text x="224.5" y="629.21" class="tk" font-size="8.2" text-anchor="end" fill="#1a1a1a">10</text>
<line x1="227.15" y1="598.74" x2="230.9" y2="598.74" stroke="#000" stroke-width="1.2"/>
<text x="224.5" y="601.69" class="tk" font-size="8.2" text-anchor="end" fill="#1a1a1a">15</text>
<line x1="227.15" y1="571.22" x2="230.9" y2="571.22" stroke="#000" stroke-width="1.2"/>
<text x="224.5" y="574.17" class="tk" font-size="8.2" text-anchor="end" fill="#1a1a1a">20</text>
<line x1="227.15" y1="543.7" x2="230.9" y2="543.7" stroke="#000" stroke-width="1.2"/>
<text x="224.5" y="546.65" class="tk" font-size="8.2" text-anchor="end" fill="#1a1a1a">25</text>
<line x1="240.5" y1="681.3" x2="240.5" y2="684.8" stroke="#000" stroke-width="1.3"/>
<text transform="translate(244,691.3) rotate(-45)" class="t" font-size="8.6" text-anchor="end" fill="#1a1a1a">Control</text>
<line x1="252.8" y1="681.3" x2="252.8" y2="684.8" stroke="#000" stroke-width="1.3"/>
<text transform="translate(256.3,691.3) rotate(-45)" class="t" font-size="8.6" text-anchor="end" fill="#1a1a1a">STING</text>
<line x1="265.1" y1="681.3" x2="265.1" y2="684.8" stroke="#000" stroke-width="1.3"/>
<text transform="translate(268.6,691.3) rotate(-45)" class="t" font-size="8.6" text-anchor="end" fill="#1a1a1a">GITR</text>
<line x1="277.4" y1="681.3" x2="277.4" y2="684.8" stroke="#000" stroke-width="1.3"/>
<text transform="translate(280.9,691.3) rotate(-45)" class="t" font-size="8.6" text-anchor="end" fill="#1a1a1a">STING + GITR</text>
<line x1="297.1" y1="681.3" x2="297.1" y2="684.8" stroke="#000" stroke-width="1.3"/>
<text transform="translate(300.6,691.3) rotate(-45)" class="t" font-size="8.6" text-anchor="end" fill="#1a1a1a">Control</text>
<line x1="309.4" y1="681.3" x2="309.4" y2="684.8" stroke="#000" stroke-width="1.3"/>
<text transform="translate(312.9,691.3) rotate(-45)" class="t" font-size="8.6" text-anchor="end" fill="#1a1a1a">STING</text>
<line x1="321.7" y1="681.3" x2="321.7" y2="684.8" stroke="#000" stroke-width="1.3"/>
<text transform="translate(325.2,691.3) rotate(-45)" class="t" font-size="8.6" text-anchor="end" fill="#1a1a1a">GITR</text>
<line x1="334" y1="681.3" x2="334" y2="684.8" stroke="#000" stroke-width="1.3"/>
<text transform="translate(337.5,691.3) rotate(-45)" class="t" font-size="8.6" text-anchor="end" fill="#1a1a1a">STING + GITR</text>
<path d="M240.25,559V556.8H277.15V559" fill="none" stroke="#111" stroke-width="1.2"/>
<text x="258.7" y="557.8" font-size="7.3" text-anchor="middle" fill="#1a1a1a">***</text>
<path d="M252.55,567.7V565.5H277.15V567.7" fill="none" stroke="#111" stroke-width="1.2"/>
<text x="264.85" y="566.5" font-size="7.3" text-anchor="middle" fill="#1a1a1a">**</text>
<path d="M264.85,576.7V574.5H277.15V576.7" fill="none" stroke="#111" stroke-width="1.2"/>
<text x="271" y="575.5" font-size="7.3" text-anchor="middle" fill="#1a1a1a">***</text>
<path d="M296.85,587.4V585.2H333.75V587.4" fill="none" stroke="#111" stroke-width="1.2"/>
<text x="315.3" y="586.2" font-size="7.3" text-anchor="middle" fill="#1a1a1a">***</text>
<path d="M309.15,596V593.8H333.75V596" fill="none" stroke="#111" stroke-width="1.2"/>
<text x="321.45" y="594.8" font-size="7.3" text-anchor="middle" fill="#1a1a1a">***</text>
<path d="M309.15,604.7V602.5H321.45V604.7" fill="none" stroke="#111" stroke-width="1.2"/>
<text x="315.3" y="603.5" font-size="7.3" text-anchor="middle" fill="#1a1a1a">*</text>
<path d="M321.45,613.4V611.2H333.75V613.4" fill="none" stroke="#111" stroke-width="1.2"/>
<text x="327.6" y="612.2" font-size="7.3" text-anchor="middle" fill="#1a1a1a">***</text>
</g>
<g>
<text x="351" y="506" font-size="14" font-weight="bold" stroke="#000" stroke-width="0.4" fill="#000">I</text>
<text x="456.35" y="519.6" font-size="10.1" font-weight="bold" stroke="#000" stroke-width="0.2" text-anchor="middle" textLength="69.7" lengthAdjust="spacingAndGlyphs" fill="#000">PD1+ in CD8+</text>
<text transform="translate(376.2,611.3) rotate(-90) scale(0.7,1)" class="yl" font-size="8.9" text-anchor="middle" textLength="67.29" lengthAdjust="spacing" fill="#1a1a1a">%PD1+/CD8+</text>
<line x1="408.7" y1="623.51" x2="408.7" y2="619.84" stroke="#8d9fb8" stroke-width="1.1"/>
<line x1="406.4" y1="619.84" x2="411" y2="619.84" stroke="#8d9fb8" stroke-width="1.1"/>
<rect x="405.4" y="623.86" width="6.6" height="57.44" fill="#95bfe8" stroke="#7fa9d8" stroke-width="0.7"/>
<line x1="421" y1="607.92" x2="421" y2="605.16" stroke="#8d9fb8" stroke-width="1.1"/>
<line x1="418.7" y1="605.16" x2="423.3" y2="605.16" stroke="#8d9fb8" stroke-width="1.1"/>
<rect x="417.7" y="608.27" width="6.6" height="73.03" fill="#95bfe8" stroke="#7fa9d8" stroke-width="0.7"/>
<line x1="433.3" y1="591.4" x2="433.3" y2="587.74" stroke="#8d9fb8" stroke-width="1.1"/>
<line x1="431" y1="587.74" x2="435.6" y2="587.74" stroke="#8d9fb8" stroke-width="1.1"/>
<rect x="430" y="591.75" width="6.6" height="89.55" fill="#95bfe8" stroke="#7fa9d8" stroke-width="0.7"/>
<line x1="445.6" y1="573.06" x2="445.6" y2="568.47" stroke="#8d9fb8" stroke-width="1.1"/>
<line x1="443.3" y1="568.47" x2="447.9" y2="568.47" stroke="#8d9fb8" stroke-width="1.1"/>
<rect x="442.3" y="573.41" width="6.6" height="107.89" fill="#95bfe8" stroke="#7fa9d8" stroke-width="0.7"/>
<line x1="465.3" y1="632.68" x2="465.3" y2="628.1" stroke="#7a1f58" stroke-width="1.1"/>
<line x1="463" y1="628.1" x2="467.6" y2="628.1" stroke="#7a1f58" stroke-width="1.1"/>
<rect x="462" y="633.03" width="6.6" height="48.27" fill="#c8007a" stroke="#a3005f" stroke-width="0.7"/>
<line x1="477.6" y1="645.53" x2="477.6" y2="642.77" stroke="#7a1f58" stroke-width="1.1"/>
<line x1="475.3" y1="642.77" x2="479.9" y2="642.77" stroke="#7a1f58" stroke-width="1.1"/>
<rect x="474.3" y="645.88" width="6.6" height="35.42" fill="#c8007a" stroke="#a3005f" stroke-width="0.7"/>
<line x1="489.9" y1="637.27" x2="489.9" y2="633.6" stroke="#7a1f58" stroke-width="1.1"/>
<line x1="487.6" y1="633.6" x2="492.2" y2="633.6" stroke="#7a1f58" stroke-width="1.1"/>
<rect x="486.6" y="637.62" width="6.6" height="43.68" fill="#c8007a" stroke="#a3005f" stroke-width="0.7"/>
<line x1="502.2" y1="600.58" x2="502.2" y2="579.48" stroke="#7a1f58" stroke-width="1.1"/>
<line x1="499.9" y1="579.48" x2="504.5" y2="579.48" stroke="#7a1f58" stroke-width="1.1"/>
<rect x="498.9" y="600.93" width="6.6" height="80.37" fill="#c8007a" stroke="#a3005f" stroke-width="0.7"/>
<line x1="399.2" y1="540.7" x2="399.2" y2="681.9" stroke="#000" stroke-width="1.3"/>
<line x1="398.6" y1="681.3" x2="512" y2="681.3" stroke="#000" stroke-width="1.3"/>
<line x1="395.45" y1="681.3" x2="399.2" y2="681.3" stroke="#000" stroke-width="1.2"/>
<text x="392.8" y="684.25" class="tk" font-size="8.2" text-anchor="end" fill="#1a1a1a">0</text>
<line x1="395.45" y1="635.43" x2="399.2" y2="635.43" stroke="#000" stroke-width="1.2"/>
<text x="392.8" y="638.38" class="tk" font-size="8.2" text-anchor="end" fill="#1a1a1a">5</text>
<line x1="395.45" y1="589.57" x2="399.2" y2="589.57" stroke="#000" stroke-width="1.2"/>
<text x="392.8" y="592.52" class="tk" font-size="8.2" text-anchor="end" fill="#1a1a1a">10</text>
<line x1="395.45" y1="543.7" x2="399.2" y2="543.7" stroke="#000" stroke-width="1.2"/>
<text x="392.8" y="546.65" class="tk" font-size="8.2" text-anchor="end" fill="#1a1a1a">15</text>
<line x1="408.7" y1="681.3" x2="408.7" y2="684.8" stroke="#000" stroke-width="1.3"/>
<text transform="translate(412.2,691.3) rotate(-45)" class="t" font-size="8.6" text-anchor="end" fill="#1a1a1a">Control</text>
<line x1="421" y1="681.3" x2="421" y2="684.8" stroke="#000" stroke-width="1.3"/>
<text transform="translate(424.5,691.3) rotate(-45)" class="t" font-size="8.6" text-anchor="end" fill="#1a1a1a">STING</text>
<line x1="433.3" y1="681.3" x2="433.3" y2="684.8" stroke="#000" stroke-width="1.3"/>
<text transform="translate(436.8,691.3) rotate(-45)" class="t" font-size="8.6" text-anchor="end" fill="#1a1a1a">GITR</text>
<line x1="445.6" y1="681.3" x2="445.6" y2="684.8" stroke="#000" stroke-width="1.3"/>
<text transform="translate(449.1,691.3) rotate(-45)" class="t" font-size="8.6" text-anchor="end" fill="#1a1a1a">STING + GITR</text>
<line x1="465.3" y1="681.3" x2="465.3" y2="684.8" stroke="#000" stroke-width="1.3"/>
<text transform="translate(468.8,691.3) rotate(-45)" class="t" font-size="8.6" text-anchor="end" fill="#1a1a1a">Control</text>
<line x1="477.6" y1="681.3" x2="477.6" y2="684.8" stroke="#000" stroke-width="1.3"/>
<text transform="translate(481.1,691.3) rotate(-45)" class="t" font-size="8.6" text-anchor="end" fill="#1a1a1a">STING</text>
<line x1="489.9" y1="681.3" x2="489.9" y2="684.8" stroke="#000" stroke-width="1.3"/>
<text transform="translate(493.4,691.3) rotate(-45)" class="t" font-size="8.6" text-anchor="end" fill="#1a1a1a">GITR</text>
<line x1="502.2" y1="681.3" x2="502.2" y2="684.8" stroke="#000" stroke-width="1.3"/>
<text transform="translate(505.7,691.3) rotate(-45)" class="t" font-size="8.6" text-anchor="end" fill="#1a1a1a">STING + GITR</text>
<path d="M408.45,533V530.8H445.35V533" fill="none" stroke="#111" stroke-width="1.2"/>
<text x="426.9" y="531.8" font-size="7.3" text-anchor="middle" fill="#1a1a1a">***</text>
<path d="M408.45,540V537.8H433.05V540" fill="none" stroke="#111" stroke-width="1.2"/>
<text x="420.75" y="538.8" font-size="7.3" text-anchor="middle" fill="#1a1a1a">***</text>
<path d="M408.45,546.9V544.7H420.75V546.9" fill="none" stroke="#111" stroke-width="1.2"/>
<text x="414.6" y="545.7" font-size="7.3" text-anchor="middle" fill="#1a1a1a">*</text>
<path d="M420.75,554.5V552.3H445.35V554.5" fill="none" stroke="#111" stroke-width="1.2"/>
<text x="433.05" y="553.3" font-size="7.3" text-anchor="middle" fill="#1a1a1a">***</text>
<path d="M420.75,560.7V558.5H433.05V560.7" fill="none" stroke="#111" stroke-width="1.2"/>
<text x="426.9" y="559.5" font-size="7.3" text-anchor="middle" fill="#1a1a1a">*</text>
<path d="M433.05,566.6V564.4H445.35V566.6" fill="none" stroke="#111" stroke-width="1.2"/>
<text x="439.2" y="565.4" font-size="7.3" text-anchor="middle" fill="#1a1a1a">**</text>
<path d="M477.35,571.8V569.6H501.95V571.8" fill="none" stroke="#111" stroke-width="1.2"/>
<text x="489.65" y="570.6" font-size="7.3" text-anchor="middle" fill="#1a1a1a">*</text>
</g>
<rect x="0.6" y="0.6" width="518.8" height="738.8" fill="none" stroke="#000" stroke-width="1.3"/>
</svg>
</body></html>
